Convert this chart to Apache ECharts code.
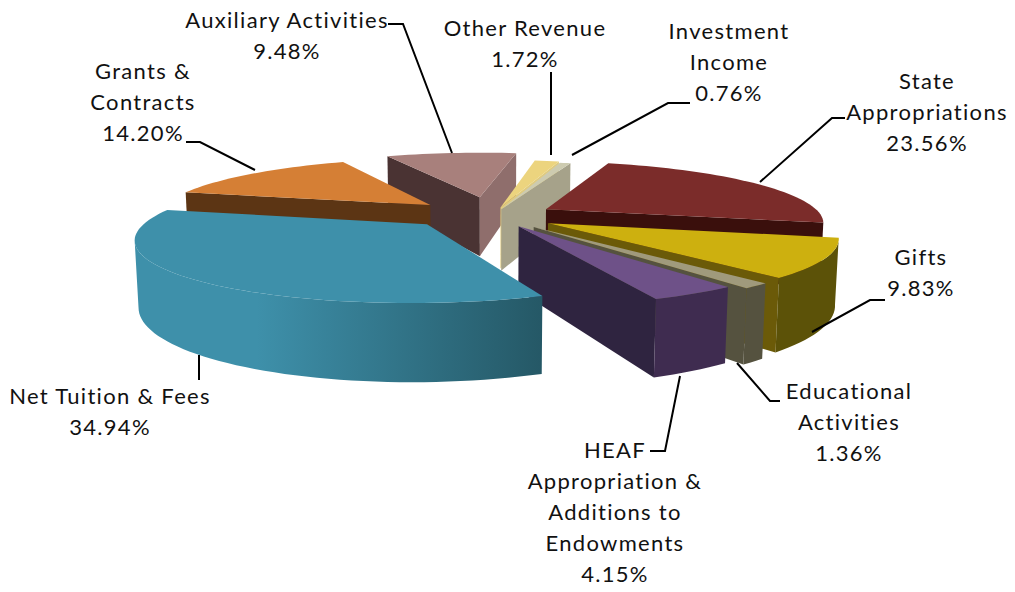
<!DOCTYPE html>
<html>
<head>
<meta charset="utf-8">
<style>
  html, body { margin: 0; padding: 0; background: #fff; }
  #chart { width: 1015px; height: 592px; }
  #chart svg text { letter-spacing: 1.3px; }
</style>
<script src="https://cdn.jsdelivr.net/npm/echarts@6/dist/echarts.min.js"></script>
</head>
<body>
<div id="chart"></div>
<script>
// data, clockwise from the first slice
var categories = ['State\nAppropriations', 'Gifts', 'Educational\nActivities', 'HEAF\nAppropriation &\nAdditions to\nEndowments', 'Net Tuition & Fees', 'Grants &\nContracts', 'Auxiliary Activities', 'Other Revenue', 'Investment\nIncome']
var shares = [23.56, 9.83, 1.36, 4.15, 34.94, 14.20, 9.48, 1.72, 0.76]

// per slice look
var explode = [0.23, 0.23, 0.23, 0.19, 0.35, 0.3, 0.34, 0.15, 0.12]
var pushBack = [0, 0, 0, 0, 0.13, 0, 0, 0, 0]
var topColors = ['#7b2c2a', '#cdb00f', '#a09a7c', '#6e5188', '#3e90aa', '#d57f35', '#a8807c', '#ecd47e', '#cdcbb0']
var startWall = ['#3a0f0c', '#6b5a08', '#55523f', '#2f2440', '#3e90aa', '#5c3514', '#4a3333', '#e0cb7e', '#a6a28a']
var endWall = ['#3a0f0c', '#6b5a08', '#55523f', '#2f2440', '#3e90aa', '#5c3514', '#8f6e6c', '#e0cb7e', '#a6a28a']
var outerFrom = ['#3a0f0c', '#5c5208', '#55523f', '#3f2c50', '#3e90aa', '#5c3514', '#8f6e6c', '#e0cb7e', '#a6a28a']
var outerTo = ['#3a0f0c', '#5c5208', '#55523f', '#3f2c50', '#255866', '#5c3514', '#8f6e6c', '#e0cb7e', '#a6a28a']
var drawOrder = [6, 7, 8, 5, 0, 1, 2, 3, 4]

// label text centre + first row, then the leader line
var labelPos = [[927, 80], [921, 256], [849, 390], [615, 449], [110, 395], [143, 70], [287, 19], [525, 27], [729, 30]]
var leaders = [
  [[845, 118], [832, 118], [760, 182]],
  [[885, 300], [870, 300], [812, 332]],
  [[780, 401], [770, 401], [737, 363]],
  [[650, 451], [665, 451], [680, 376]],
  [[199, 355], [199, 380]],
  [[186, 142], [200, 142], [255, 170]],
  [[388, 24], [403, 24], [452, 153]],
  [[551, 72], [551, 155]],
  [[690, 103], [668, 103], [572, 155]]
]

// view
var startAngle = 18
var pitch = 12.5 * Math.PI / 180
var camDist = 5
var focal = 1380
var thickness = 0.235
var centerX = 492
var centerY = 216

function project(x, y, h) {
  var yc = y * Math.sin(pitch) + h * Math.cos(pitch)
  var zc = camDist + y * Math.cos(pitch) - h * Math.sin(pitch)
  return [centerX + focal * x / zc, centerY - focal * yc / zc]
}

function ringPoint(dx, dy, deg, h) {
  var a = deg * Math.PI / 180
  return project(dx + Math.sin(a), dy + Math.cos(a), h)
}

function area(pts) {
  var s = 0
  for (var i = 0; i < pts.length; i++) {
    var p = pts[i], q = pts[(i + 1) % pts.length]
    s += p[0] * q[1] - q[0] * p[1]
  }
  return s
}

var total = shares.reduce(function (a, b) { return a + b }, 0)
var starts = []
var run = startAngle
shares.forEach(function (v) {
  starts.push(run)
  run += v / total * 360
})

function polygon(points, fill, z2) {
  return { type: 'polygon', shape: { points: points }, style: { fill: fill }, z2: z2 }
}

function renderSlice(params, api) {
  var idx = drawOrder[params.dataIndex]
  var a0 = starts[idx]
  var a1 = a0 + api.value(0) / total * 360
  var mid = (a0 + a1) / 2 * Math.PI / 180
  var dx = Math.sin(mid) * explode[idx]
  var dy = Math.cos(mid) * explode[idx] + pushBack[idx]
  var steps = Math.max(3, Math.ceil((a1 - a0) / 2))
  var z = params.dataIndex * 10 + 1
  var children = []

  var apexTop = project(dx, dy, 0)
  var apexBot = project(dx, dy, -thickness)
  var arcTop = [], arcBot = []
  for (var i = 0; i <= steps; i++) {
    var deg = a0 + (a1 - a0) * i / steps
    arcTop.push(ringPoint(dx, dy, deg, 0))
    arcBot.push(ringPoint(dx, dy, deg, -thickness))
  }

  // the two cut faces, only when they look at the camera
  var sw = [apexTop, arcTop[0], arcBot[0], apexBot]
  if (area(sw) < 0) children.push(polygon(sw, startWall[idx], z))
  var ew = [apexTop, arcTop[steps], arcBot[steps], apexBot]
  if (area(ew) > 0) children.push(polygon(ew, endWall[idx], z))

  // rim, the part that runs right to left on screen
  var front = [], back = []
  for (i = 0; i < steps; i++) {
    if (arcTop[i + 1][0] < arcTop[i][0]) {
      if (!front.length) { front.push(arcTop[i]); back.push(arcBot[i]) }
      front.push(arcTop[i + 1])
      back.push(arcBot[i + 1])
    }
  }
  if (front.length) {
    var fill = new echarts.graphic.LinearGradient(front[front.length - 1][0], 0, front[0][0], 0, [
      { offset: 0, color: outerFrom[idx] },
      { offset: 0.3, color: outerFrom[idx] },
      { offset: 1, color: outerTo[idx] }
    ], true)
    children.push(polygon(front.concat(back.reverse()), fill, z + 1))
  }

  children.push(polygon([apexTop].concat(arcTop), topColors[idx], z + 2))
  return { type: 'group', children: children }
}

var graphicItems = []
categories.forEach(function (name, i) {
  var lines = name.split('\n').concat(shares[i].toFixed(2) + '%')
  lines.forEach(function (line, k) {
    graphicItems.push({
      type: 'text',
      x: labelPos[i][0],
      y: labelPos[i][1] + k * 31,
      style: { text: line, fill: '#111', font: '22px Lato', textAlign: 'center', textVerticalAlign: 'middle' }
    })
  })
  graphicItems.push({
    type: 'polyline',
    shape: { points: leaders[i] },
    style: { stroke: '#000', lineWidth: 2, fill: null },
    z: 5
  })
})

var chart = echarts.init(document.getElementById('chart'), null, { renderer: 'svg' })
chart.setOption({
  animation: false,
  graphic: graphicItems,
  series: [{
    type: 'custom',
    coordinateSystem: 'none',
    renderItem: renderSlice,
    encode: { value: 0 },
    data: drawOrder.map(function (i) { return [shares[i]] })
  }]
})
</script>
</body>
</html>
